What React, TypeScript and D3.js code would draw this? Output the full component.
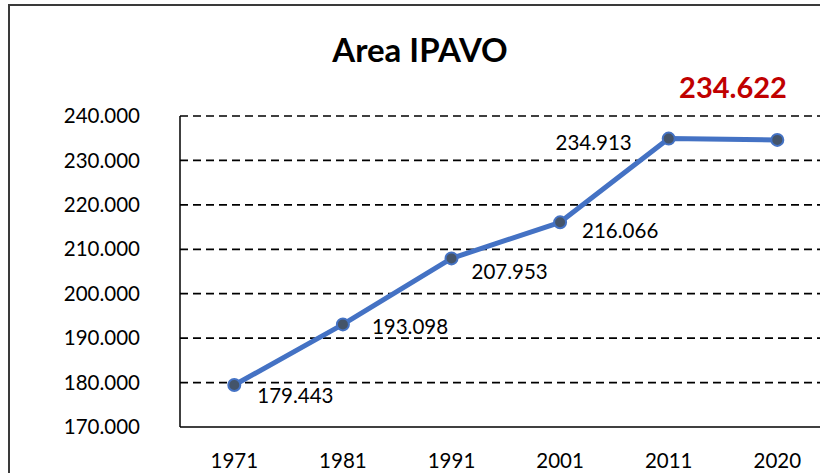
import React, { useEffect, useRef } from 'react';
import * as d3 from 'd3';

const years = ['1971', '1981', '1991', '2001', '2011', '2020'];
const areaValues = [179.443, 193.098, 207.953, 216.066, 234.913, 234.622];
const yTicks = [170, 180, 190, 200, 210, 220, 230, 240];
// label offsets from each point (Excel-style placement), null = no label
const labelOffsets: ([number, number, string] | null)[] = [
  [23, 11, 'start'],
  [29, 2, 'start'],
  [20, 13, 'start'],
  [22, 8, 'start'],
  [-37, 4, 'end'],
  null,
];
const highlightLabel = '234.622';

const fmt = (v: number) => v.toFixed(3);

export default function App() {
  const svgRef = useRef<SVGSVGElement>(null);

  useEffect(() => {
    const W = 820;
    const H = 473;
    const margin = { top: 116, left: 180, bottom: 46 };
    const svg = d3.select(svgRef.current);
    svg.selectAll('*').remove();
    svg.attr('width', W).attr('height', H);

    svg.append('rect').attr('width', W).attr('height', H).attr('fill', '#fff');

    // outer chart border (cropped on the right/bottom)
    svg.append('rect')
      .attr('x', 9).attr('y', 5)
      .attr('width', 900).attr('height', 600)
      .attr('fill', 'none')
      .attr('stroke', '#3a3a3a')
      .attr('stroke-width', 2);

    const font = 'Lato, "Open Sans", sans-serif';
    const labelSize = '20.5px';

    const x = d3.scaleBand<string>()
      .domain(years)
      .range([margin.left, margin.left + 651.6]);
    const cx = (d: string) => (x(d) as number) + x.bandwidth() / 2;

    const y = d3.scaleLinear()
      .domain([170, 240])
      .range([H - margin.bottom, margin.top]);

    // dashed gridlines
    svg.append('g')
      .selectAll('line')
      .data(yTicks.filter(t => t > 170))
      .enter()
      .append('line')
      .attr('x1', margin.left).attr('x2', W)
      .attr('y1', d => y(d)).attr('y2', d => y(d))
      .attr('stroke', '#000')
      .attr('stroke-width', 1.7)
      .attr('stroke-dasharray', '8,5');

    // axes lines
    svg.append('line')
      .attr('x1', margin.left).attr('x2', margin.left)
      .attr('y1', y(240)).attr('y2', y(170))
      .attr('stroke', '#000').attr('stroke-width', 1.5);
    svg.append('line')
      .attr('x1', margin.left).attr('x2', W)
      .attr('y1', y(170)).attr('y2', y(170))
      .attr('stroke', '#000').attr('stroke-width', 1.7);

    // y tick labels
    svg.append('g')
      .selectAll('text')
      .data(yTicks)
      .enter()
      .append('text')
      .attr('x', 140)
      .attr('y', d => y(d))
      .attr('dy', '0.35em')
      .attr('text-anchor', 'end')
      .style('font-family', font)
      .style('font-size', labelSize)
      .attr('fill', '#000')
      .text(d => fmt(d));

    // x tick labels
    svg.append('g')
      .selectAll('text')
      .data(years)
      .enter()
      .append('text')
      .attr('x', d => cx(d))
      .attr('y', 461)
      .attr('dy', '0.35em')
      .attr('text-anchor', 'middle')
      .style('font-family', font)
      .style('font-size', labelSize)
      .attr('fill', '#000')
      .text(d => d);

    const points = years.map((yr, i) => ({ yr, v: areaValues[i], off: labelOffsets[i] }));

    const line = d3.line<{ yr: string; v: number }>()
      .x(d => cx(d.yr))
      .y(d => y(d.v));

    svg.append('path')
      .datum(points)
      .attr('fill', 'none')
      .attr('stroke', '#4472C4')
      .attr('stroke-width', 5)
      .attr('stroke-linejoin', 'round')
      .attr('d', line);

    svg.append('g')
      .selectAll('circle')
      .data(points)
      .enter()
      .append('circle')
      .attr('cx', d => cx(d.yr))
      .attr('cy', d => y(d.v))
      .attr('r', 6)
      .attr('fill', '#44546A')
      .attr('stroke', '#4472C4')
      .attr('stroke-width', 2);

    // data labels
    svg.append('g')
      .selectAll('text')
      .data(points.filter(p => p.off))
      .enter()
      .append('text')
      .attr('x', d => cx(d.yr) + (d.off as any)[0])
      .attr('y', d => y(d.v) + (d.off as any)[1])
      .attr('dy', '0.35em')
      .attr('text-anchor', d => (d.off as any)[2])
      .style('font-family', font)
      .style('font-size', labelSize)
      .attr('fill', '#000')
      .text(d => fmt(d.v));

    // title
    svg.append('text')
      .attr('x', 420).attr('y', 50)
      .attr('dy', '0.35em')
      .attr('text-anchor', 'middle')
      .style('font-family', font)
      .style('font-size', '33px')
      .style('font-weight', 'bold')
      .attr('fill', '#000')
      .text('Area IPAVO');

    // highlighted latest value
    svg.append('text')
      .attr('x', 733).attr('y', 88)
      .attr('dy', '0.35em')
      .attr('text-anchor', 'middle')
      .style('font-family', font)
      .style('font-size', '29px')
      .style('font-weight', 'bold')
      .attr('fill', '#C00000')
      .text(highlightLabel);
  }, []);

  return (
    <div style={{ position: 'absolute', left: 0, top: 0 }}>
      <svg ref={svgRef} style={{ display: 'block' }}></svg>
    </div>
  );
}
